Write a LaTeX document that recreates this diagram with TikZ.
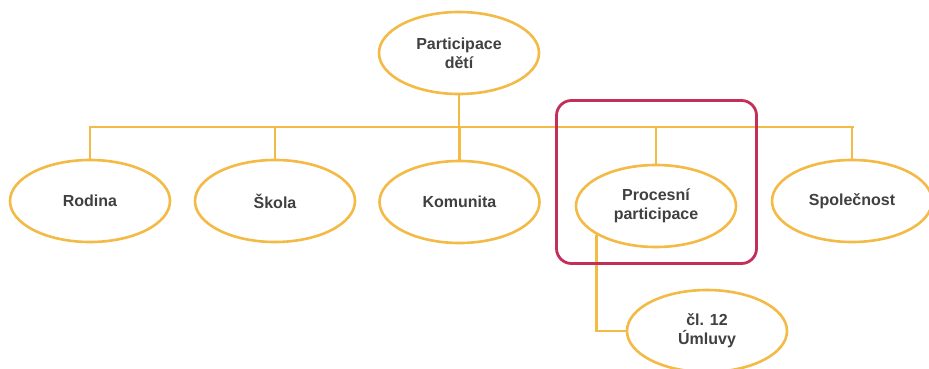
\documentclass[tikz,border=0pt]{standalone}
\usepackage{fontspec}
\setmainfont{Liberation Sans}
\usetikzlibrary{shapes.geometric}
\definecolor{linegold}{HTML}{F3BA45}
\definecolor{framered}{HTML}{C2305A}
\definecolor{labelgray}{HTML}{404040}
\tikzset{
  topic/.style={ellipse, draw=linegold, line width=2.6pt, fill=white,
    minimum width=160pt, minimum height=82pt, inner sep=0pt,
    align=center, text=labelgray,
    font=\fontsize{16pt}{19pt}\selectfont\bfseries},
  link/.style={draw=linegold, line width=2.6pt},
  highlight/.style={draw=framered, line width=2.8pt, rounded corners=15pt,
    minimum width=200pt, minimum height=163pt, inner sep=0pt}
}
\begin{document}
\begin{tikzpicture}[x=1pt,y=-1pt]
\useasboundingbox (0,0) rectangle (929,369);

% hierarchy nodes
\node[topic] (root) at (459,53) {Participace\\dětí};
\node[topic] (rodina) at (90,201) {Rodina};
\node[topic] (skola) at (275,201) {Škola};
\node[topic] (komunita) at (459.5,202) {Komunita};
\node[topic] (proces) at (656,206) {Procesní\\participace};
\node[topic] (spolecnost) at (852,201) {Společnost};
\node[topic] (clanek) at (707,331) {čl. 12\\Úmluvy};

% branch bar
\coordinate (barL) at (90,127);
\coordinate (barR) at (853,127);
\draw[link] (root) -- (root |- barL);
\draw[link, line cap=rect] (barL) -- (barR);
\foreach \n in {rodina,skola,komunita,proces,spolecnost}
  \draw[link] (\n) -- (\n |- barL);

% article branch
\draw[link] (proces.206) |- (clanek.west);

% highlight frame
\node[highlight] (frame) at (656.5,182) {};
\end{tikzpicture}
\end{document}
